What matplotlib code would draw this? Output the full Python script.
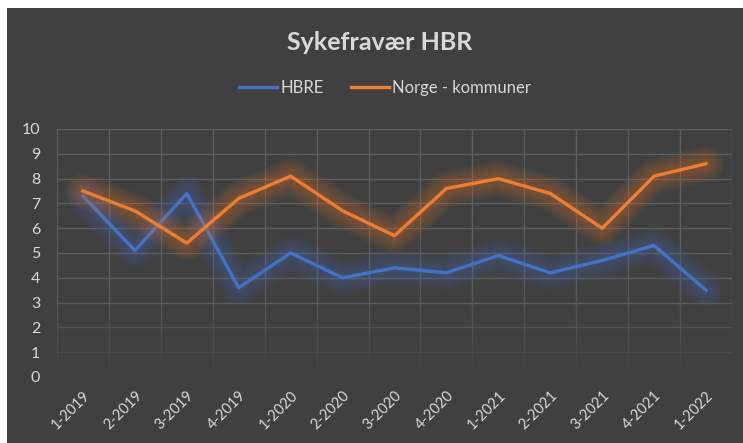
import numpy as np
import matplotlib
matplotlib.use("Agg")
import matplotlib.pyplot as plt
from matplotlib.patches import Rectangle
from matplotlib.collections import LineCollection
import matplotlib.patheffects as pe

plt.rcParams['font.family'] = ['Lato', 'DejaVu Sans']

# data
kvartaler = ["1-2019", "2-2019", "3-2019", "4-2019", "1-2020", "2-2020", "3-2020",
             "4-2020", "1-2021", "2-2021", "3-2021", "4-2021", "1-2022"]
hbre = [7.3, 5.1, 7.4, 3.6, 5.0, 4.0, 4.4, 4.2, 4.9, 4.2, 4.7, 5.3, 3.5]
norge = [7.5, 6.7, 5.4, 7.2, 8.1, 6.7, 5.7, 7.6, 8.0, 7.4, 6.0, 8.1, 8.6]
y_ticks = list(range(0, 11))

bg = "#404040"
txt = "#d9d9d9"
grid = "#5e5e5e"
blue = "#4472C4"
orange = "#ED7D31"

W, H = 743, 443
fig = plt.figure(figsize=(W / 100, H / 100), dpi=100, facecolor="white")
fig.patches.append(Rectangle((7 / W, 0), 1, (H - 8) / H, transform=fig.transFigure,
                             facecolor=bg, edgecolor="none", zorder=-10))

ax = fig.add_axes([57 / W, (H - 377) / H, (732 - 57) / W, (377 - 129) / H])
ax.set_facecolor("none")
ax.set_xlim(-0.5, len(kvartaler) - 0.5)
ax.set_ylim(0, 10)
for s in ax.spines.values():
    s.set_visible(False)

# gridlines fading toward the bottom
for v in y_ticks:
    a = min(1.0, 0.15 + v / 4.0)
    ax.axhline(v, color=grid, lw=1, alpha=a, zorder=1)
segs = []
alphas = []
ys = np.linspace(0, 10, 41)
for xv in np.arange(-0.5, len(kvartaler), 1.0):
    for y0, y1 in zip(ys[:-1], ys[1:]):
        segs.append([(xv, y0), (xv, y1)])
        alphas.append(min(1.0, 0.05 + y0 / 4.0))
cols = [matplotlib.colors.to_rgba(grid, a) for a in alphas]
ax.add_collection(LineCollection(segs, colors=cols, linewidths=1, zorder=1))

def glow(color):
    effects = []
    for w in range(26, 3, -2):
        effects.append(pe.Stroke(linewidth=w, foreground=color, alpha=0.035,
                                 joinstyle="round", capstyle="round"))
    effects.append(pe.Normal())
    return effects

x = np.arange(len(kvartaler))
ax.plot(x, hbre, color=blue, lw=2.4, label="HBRE", zorder=3,
        path_effects=glow(blue))
ax.plot(x, norge, color=orange, lw=2.4, label="Norge - kommuner", zorder=3,
        path_effects=glow(orange))

ax.set_yticks(y_ticks)
ax.set_yticklabels([str(v) for v in y_ticks], fontsize=11.5, color=txt)
ax.set_xticks(x)
ax.set_xticklabels(kvartaler, fontsize=10.5, color=txt, rotation=45, ha="right",
                   rotation_mode="anchor")
ax.tick_params(length=0)
ax.tick_params(axis="y", pad=12)
ax.tick_params(axis="x", pad=8)

fig.text(380 / W, 1 - 42 / H, "Sykefravær HBR", ha="center", va="center",
         fontsize=18, fontweight="bold", color=txt)

h1, = ax.plot([], [], color=blue, lw=2.4)
h2, = ax.plot([], [], color=orange, lw=2.4)
fig.legend([h1, h2], ["HBRE", "Norge - kommuner"], loc="center",
           bbox_to_anchor=(385 / W, 1 - 88 / H), ncol=2, frameon=False,
           fontsize=12, labelcolor=txt, handlelength=2.3, handletextpad=0.2,
           columnspacing=1.6)

fig.savefig("out.png", dpi=100, facecolor="white")
